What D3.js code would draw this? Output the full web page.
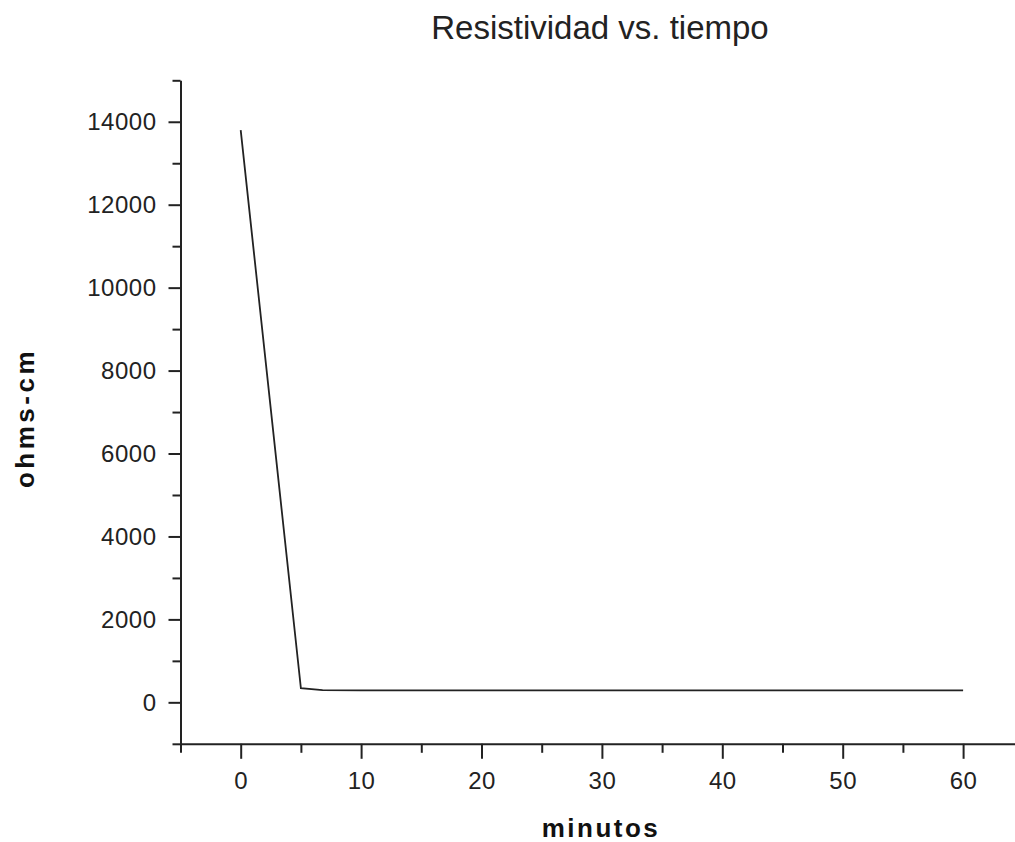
<!DOCTYPE html>
<html>
<head>
<meta charset="utf-8">
<script src="https://cdn.jsdelivr.net/npm/d3@7"></script>
<style>
  body { margin: 0; background: #fff; }
  svg { display: block; font-family: "Liberation Sans", Arial, sans-serif; }
  .axis path, .axis line { stroke: #222; }
  .axis text { fill: #222; font-size: 24px; letter-spacing: 0.5px; }
</style>
</head>
<body>
<script>
// minutos vs ohms-cm
var minutos = [0, 5, 6.8, 10, 20, 30, 40, 50, 60];
var resistividad = [13800, 340, 295, 290, 290, 290, 290, 290, 290];
var xTicks = [0, 10, 20, 30, 40, 50, 60];
var yTicks = [0, 2000, 4000, 6000, 8000, 10000, 12000, 14000];

var width = 1015, height = 842;

var x = d3.scaleLinear().domain([-5, 65]).range([180.5, 1023.3]);
var y = d3.scaleLinear().domain([-1000, 15000]).range([743.8, 80.3]);

var svg = d3.select("body").append("svg")
    .attr("width", width)
    .attr("height", height);

// minor ticks
var xMinor = d3.range(-5, 66, 10);
var yMinor = d3.range(-1000, 15001, 2000);

svg.append("g")
    .attr("class", "axis")
    .attr("transform", "translate(0," + y(-1000) + ")")
    .call(d3.axisBottom(x).tickValues(xMinor).tickSize(9).tickFormat(""))
    .call(function(g){ g.select(".domain").remove(); })
    .selectAll("line").attr("stroke-width", 2);

svg.append("g")
    .attr("class", "axis")
    .attr("transform", "translate(" + x(-5) + ",0)")
    .call(d3.axisLeft(y).tickValues(yMinor).tickSize(8).tickFormat(""))
    .call(function(g){ g.select(".domain").remove(); })
    .selectAll("line").attr("stroke-width", 2);

var xAxis = svg.append("g")
    .attr("class", "axis")
    .attr("transform", "translate(0," + y(-1000) + ")")
    .call(d3.axisBottom(x).tickValues(xTicks).tickFormat(d3.format("d")).tickSize(15).tickSizeOuter(0).tickPadding(13));
xAxis.select(".domain").attr("stroke-width", 2);
xAxis.selectAll("line").attr("stroke-width", 2);

var yAxis = svg.append("g")
    .attr("class", "axis")
    .attr("transform", "translate(" + x(-5) + ",0)")
    .call(d3.axisLeft(y).tickValues(yTicks).tickFormat(d3.format("d")).tickSize(12).tickSizeOuter(0).tickPadding(12));
yAxis.select(".domain").attr("stroke-width", 2);
yAxis.selectAll("line").attr("stroke-width", 2);

var line = d3.line()
    .x(function(d, i){ return x(minutos[i]); })
    .y(function(d){ return y(d); });

svg.append("path")
    .datum(resistividad)
    .attr("d", line)
    .attr("fill", "none")
    .attr("stroke", "#222")
    .attr("stroke-width", 1.8);

svg.append("text")
    .attr("x", 600)
    .attr("y", 39)
    .attr("text-anchor", "middle")
    .attr("font-size", 33)
    .attr("fill", "#222")
    .text("Resistividad vs. tiempo");

svg.append("text")
    .attr("x", 601)
    .attr("y", 837)
    .attr("text-anchor", "middle")
    .attr("font-size", 26)
    .attr("font-weight", "bold")
    .attr("letter-spacing", 2.5)
    .attr("fill", "#111")
    .text("minutos");

svg.append("text")
    .attr("transform", "translate(34,418) rotate(-90)")
    .attr("text-anchor", "middle")
    .attr("font-size", 26)
    .attr("font-weight", "bold")
    .attr("letter-spacing", 3.5)
    .attr("fill", "#111")
    .text("ohms-cm");
</script>
</body>
</html>
